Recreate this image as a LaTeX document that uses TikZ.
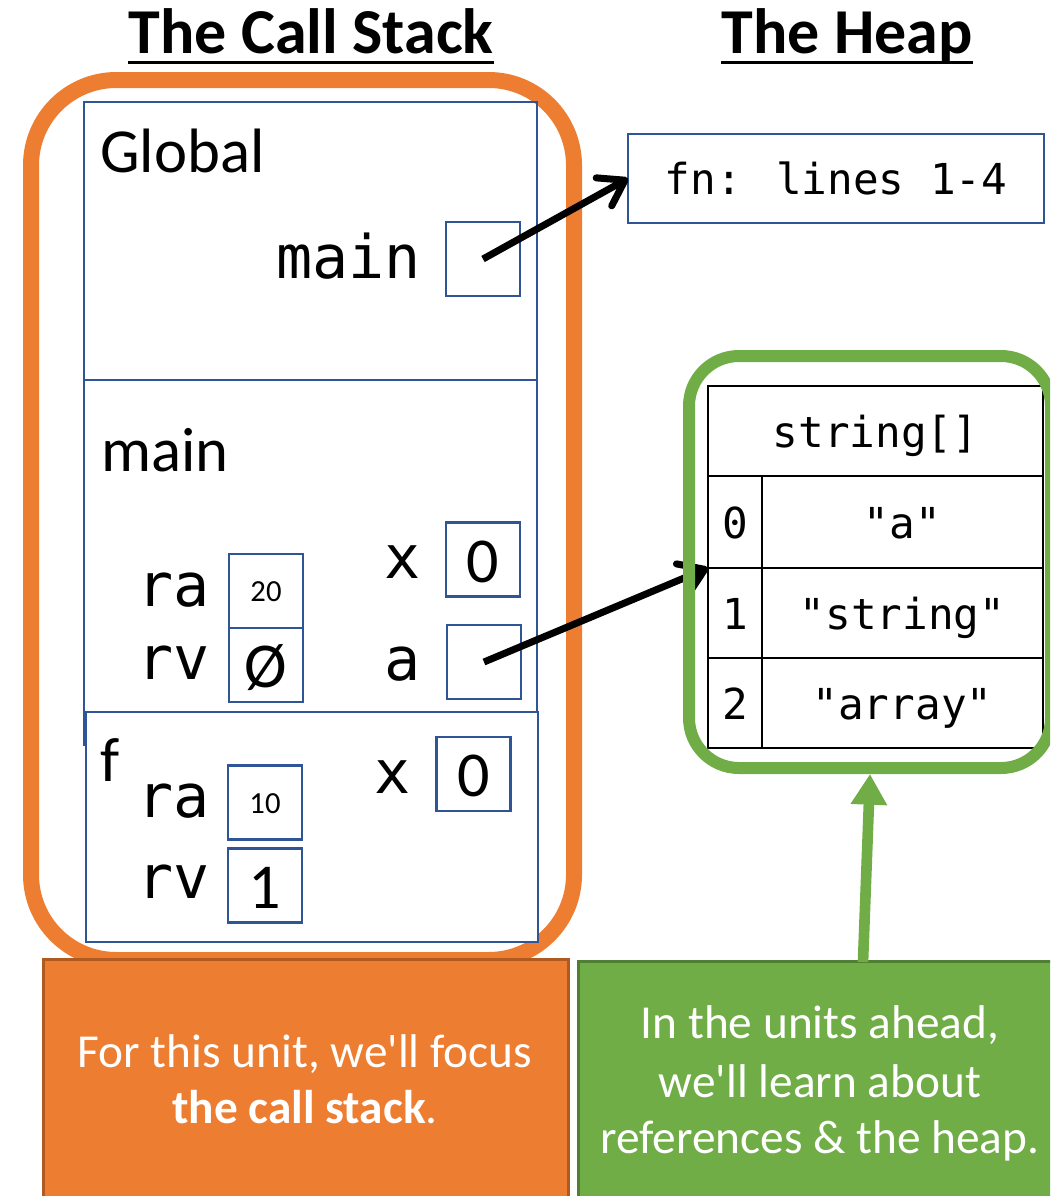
\documentclass[tikz,border=0pt]{standalone}
\usepackage{fontspec}
\setmainfont{Carlito}
\newfontfamily\monof{DejaVu Sans Mono}
\usetikzlibrary{arrows.meta}
\definecolor{frameblue}{HTML}{2F5597}
\definecolor{oran}{HTML}{ED7D31}
\definecolor{oranD}{HTML}{AE5A21}
\definecolor{grn}{HTML}{70AD47}
\definecolor{grnD}{HTML}{507E32}
\begin{document}
\begin{tikzpicture}[x=0.75pt,y=-0.75pt,
  frame/.style={draw=frameblue, line width=1.8pt, inner sep=0pt, outer sep=0pt, anchor=north west},
  valbox/.style={draw=frameblue, line width=1.8pt, inner sep=0pt, outer sep=0pt, minimum width=55.5pt, minimum height=55.5pt, fill=white},
  bigval/.style={valbox, font=\fontsize{48}{48}\selectfont, text height=34pt, text depth=0pt},
  smallval/.style={valbox, font=\fontsize{23}{23}\selectfont, text height=16pt, text depth=0pt},
  varlab/.style={anchor=base east, inner sep=0pt, font=\monof\fontsize{45}{45}\selectfont},
  framelab/.style={anchor=base west, inner sep=0pt, font=\fontsize{47}{47}\selectfont},
  cell/.style={draw=black, line width=1.5pt, inner sep=0pt, outer sep=0pt, font=\monof\fontsize{32}{32}\selectfont, text height=28pt, text depth=4pt},
  ptr/.style={line width=5.25pt, -{Straight Barb[length=18pt, width=24pt, round]}},
  titletext/.style={anchor=base, inner sep=0pt, font=\bfseries\fontsize{48}{48}\selectfont},
  calltext/.style={anchor=base, inner sep=0pt, text=white, font=\fontsize{35.5}{35.5}\selectfont},
]
\useasboundingbox (0,0) rectangle (1050,1196);
\clip (0,0) rectangle (1050,1196);

% titles
\node[titletext] (t1) at (311,53) {The Call Stack};
\draw[line width=2.25pt] ([yshift=-6.75pt]t1.base west) -- ([yshift=-6.75pt]t1.base east);
\node[titletext] (t2) at (847,53) {The Heap};
\draw[line width=2.25pt] ([yshift=-6.75pt]t2.base west) -- ([yshift=-6.75pt]t2.base east);

% call stack container
\node[draw=oran, line width=12pt, rounded corners=64pt, minimum width=407.25pt, minimum height=660pt, inner sep=0pt] (stack) at (302.5,520) {};

% frames
\node[frame, minimum width=339.75pt, minimum height=273.75pt] (mainf) at (84,380) {};
\node[frame, minimum width=339.75pt, minimum height=208.5pt] (global) at (84,102) {};
\node[frame, fill=white, minimum width=339pt, minimum height=172.5pt] (ff) at (86,712) {};

% Global frame
\node[framelab] (lglobal) at (100,172) {Global};
\node[varlab] (lgmain) at (421,278) {main};
\node[valbox] (gmain) at (483,259) {};

% main frame
\node[framelab] (lmain) at (101,471) {main};
\node[varlab] (lmx) at (421,578) {x};
\node[bigval] (mx) at (483,559.5) {0};
\node[varlab] (lma) at (421,680) {a};
\node[valbox] (ma) at (484,662) {};
\node[varlab] (lmra) at (210,606) {ra};
\node[smallval] (mra) at (266,591) {20};
\node[varlab] (lmrv) at (210,679) {rv};
\node[bigval] (mrv) at (266,665) {Ø};

% f frame
\node[framelab] (lf) at (100,781) {f};
\node[varlab] (lfx) at (411,793) {x};
\node[bigval] (fx) at (473.5,774) {0};
\node[varlab] (lfra) at (210,817) {ra};
\node[smallval] (fra) at (265,802.5) {10};
\node[varlab] (lfrv) at (210,898) {rv};
\node[bigval] (frv) at (265,885.5) {1};

% heap: function object
\node[draw=frameblue, line width=1.8pt, inner sep=0pt, outer sep=0pt, minimum width=312pt, minimum height=66.75pt,
      font=\monof\fontsize{32}{32}\selectfont, text height=28pt, text depth=4pt] (fnbox) at (836,178.5) {fn: lines 1-4};

% heap: array
\node[cell, minimum width=251.25pt, minimum height=67.5pt] (hdr) at (875.5,431) {string[]};
\node[cell, minimum width=40.5pt, minimum height=69pt] (i0) at (735,522) {0};
\node[cell, minimum width=210.75pt, minimum height=69pt] (v0) at (902.5,522) {"a"};
\node[cell, minimum width=40.5pt, minimum height=67.5pt] (i1) at (735,613) {1};
\node[cell, minimum width=210.75pt, minimum height=67.5pt] (v1) at (902.5,613) {"string"};
\node[cell, minimum width=40.5pt, minimum height=67.5pt] (i2) at (735,703) {2};
\node[cell, minimum width=210.75pt, minimum height=67.5pt] (v2) at (902.5,703) {"array"};

% pointers
\draw[ptr] (gmain.center) -- (fnbox.west);
\draw[ptr] (ma.center) -- (i1.north west);

% heap container
\node[draw=grn, line width=9pt, rounded corners=37.5pt, minimum width=271.5pt, minimum height=309pt, inner sep=0pt] (heap) at (870,562) {};

% callouts
\node[draw=oranD, fill=oran, line width=2pt, anchor=north west, minimum width=393.75pt, minimum height=190pt, inner sep=0pt] (ocall) at (42,958) {};
\node[calltext] (ot1) at (305,1067) {For this unit, we\textquotesingle ll focus};
\node[calltext] (ot2) at (305,1123) {\textbf{the call stack}.};

\node[draw=grnD, fill=grn, line width=2pt, anchor=north west, minimum width=358pt, minimum height=190pt, inner sep=0pt] (gcall) at (577,960) {};
\node[calltext] (gt1) at (820,1038) {In the units ahead,};
\node[calltext] (gt2) at (820,1097) {we\textquotesingle ll learn about};
\node[calltext] (gt3) at (820,1153) {references \& the heap.};

\coordinate (gstart) at (863,962);
\draw[grn, line width=8pt, -{Triangle[length=23pt,width=26pt]}] (gstart) -- (heap.south);
\end{tikzpicture}
\end{document}
